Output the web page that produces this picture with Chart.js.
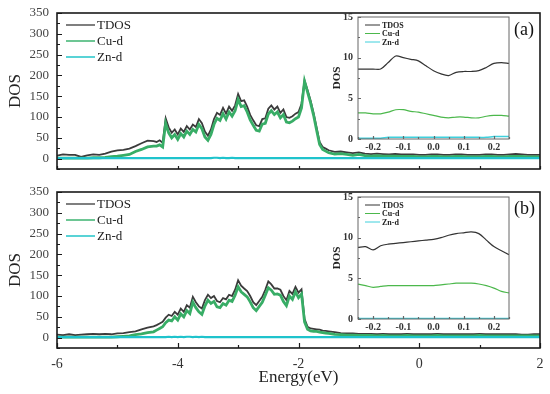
<!DOCTYPE html>
<html>
<head>
<meta charset="utf-8">
<script src="https://cdn.jsdelivr.net/npm/chart.js@4.4.0/dist/chart.umd.min.js"></script>
<style>
  html, body { margin: 0; padding: 0; background: #fff; }
  #wrap { position: relative; width: 550px; height: 394px; overflow: hidden; }
  canvas { position: absolute; }
</style>
</head>
<body>
<div id="wrap">
  <canvas id="mainA" width="550" height="180" style="left:0;top:0"></canvas>
  <canvas id="mainB" width="550" height="214" style="left:0;top:180px"></canvas>
  <canvas id="insetA" width="230" height="160" style="left:320px;top:0"></canvas>
  <canvas id="insetB" width="230" height="160" style="left:320px;top:180px"></canvas>
</div>
<script>
// nama seri (legend)
const seriesNames = ['TDOS', 'Cu-d', 'Zn-d'];

// sumbu energi panel utama (eV)
const energy = [
  -6.0, -5.9, -5.8, -5.7, -5.6, -5.5, -5.4, -5.3, -5.2, -5.1, -5.0, -4.9, -4.8, -4.7, -4.6, -4.5, -4.4,
  -4.35, -4.3, -4.25, -4.2, -4.15, -4.1, -4.05, -4.0,
  -3.95, -3.9, -3.85, -3.8, -3.75, -3.7, -3.65, -3.6, -3.55, -3.5,
  -3.45, -3.4, -3.35, -3.3, -3.25, -3.2, -3.15, -3.1, -3.05, -3.0,
  -2.95, -2.9, -2.85, -2.8, -2.75, -2.7, -2.65, -2.6, -2.55, -2.5,
  -2.45, -2.4, -2.35, -2.3, -2.25, -2.2, -2.15, -2.1, -2.05, -2.0,
  -1.95, -1.9, -1.85, -1.8, -1.75, -1.7, -1.65, -1.6, -1.55,
  -1.5, -1.4, -1.3, -1.2, -1.1, -1.0, -0.9, -0.8, -0.7, -0.6, -0.5, -0.4, -0.3, -0.2, -0.1,
  0.0, 0.1, 0.2, 0.3, 0.4, 0.5, 0.6, 0.7, 0.8, 0.9, 1.0, 1.1, 1.2, 1.3, 1.4, 1.5, 1.6, 1.7, 1.8, 1.9, 2.0
];

// panel (a)
const tdosA = [
  7, 10, 9, 9, 4, 8, 10, 9, 12, 17, 20, 21, 24, 30, 37, 43, 42,
  40, 44, 38, 97, 75, 62, 70, 58,
  72, 64, 78, 70, 82, 76, 95, 85, 65, 55,
  70, 95, 110, 105, 122, 108, 125, 115, 128, 155,
  138, 140, 125, 105, 92, 80, 78, 95, 97, 120,
  128, 118, 125, 110, 118, 100, 98, 102, 108, 112,
  132, 188, 165, 140, 110, 75, 40, 28, 24,
  20, 16, 17, 15, 13, 15, 12, 11, 12, 11, 10, 11, 10, 10, 10,
  9, 9, 10, 10, 9, 9, 10, 10, 9, 9, 9, 10, 10, 9, 9, 10, 11, 10, 9, 9, 9
];
const cuA = [
  1, 1, 1, 1, 1, 1, 2, 2, 3, 5, 6, 8, 10, 17, 22, 28, 30,
  30, 33, 28, 85, 62, 50, 58, 46,
  60, 52, 66, 58, 70, 64, 82, 72, 52, 44,
  58, 82, 97, 92, 108, 95, 112, 102, 115, 142,
  125, 127, 112, 93, 80, 68, 66, 83, 85, 107,
  115, 106, 112, 98, 106, 88, 86, 90, 96, 100,
  122, 186, 160, 134, 104, 68, 34, 22, 18,
  14, 11, 12, 10, 8, 10, 7, 6, 7, 6, 6, 6, 5, 5, 5,
  4, 4, 5, 5, 4, 4, 5, 5, 4, 4, 4, 5, 5, 4, 4, 5, 5, 5, 4, 4, 4
];
const znA = [
  1, 1, 1, 1, 1, 1, 1, 1, 1, 1, 1, 1, 1, 1, 1, 1, 1,
  1, 1, 1, 1, 1, 1, 1, 1,
  1, 1, 1, 1, 1, 1, 1, 1, 1, 1,
  1, 2, 2, 1, 2, 1, 1, 2, 1, 1,
  1, 1, 1, 1, 1, 1, 1, 1, 1, 1,
  1, 1, 1, 1, 1, 1, 1, 1, 1, 1,
  1, 1, 1, 1, 1, 1, 1, 1, 1,
  1, 1, 1, 1, 1, 1, 1, 1, 1, 1, 1, 1, 1, 1, 1,
  1, 1, 1, 1, 1, 1, 1, 1, 1, 1, 1, 1, 1, 1, 1, 1, 1, 1, 1, 1, 1
];

// panel (b)
const tdosB = [
  7, 6, 8, 6, 7, 8, 9, 8, 9, 8, 10, 11, 13, 15, 20, 24, 27,
  30, 34, 38, 48, 55, 52, 62, 55,
  70, 62, 78, 72, 98, 85, 75, 70, 90, 103,
  95, 100, 88, 85, 95, 92, 103, 100, 115, 138,
  125, 118, 112, 100, 85, 78, 88, 98, 115, 135,
  128, 118, 118, 115, 100, 90, 112, 105, 122, 108,
  116, 45, 26, 22, 21, 20, 19, 17, 16,
  15, 13, 11, 10, 10, 9, 9, 9, 8, 9, 8, 8, 8, 9, 8,
  8, 8, 8, 9, 8, 8, 8, 8, 8, 8, 9, 8, 8, 8, 8, 8, 8, 7, 7, 8, 8
];
const cuB = [
  1, 1, 1, 1, 1, 1, 1, 1, 1, 1, 2, 3, 4, 7, 9, 12, 14,
  18, 22, 26, 36, 42, 40, 50, 42,
  57, 50, 65, 58, 85, 72, 62, 56, 76, 90,
  82, 87, 74, 72, 82, 78, 90, 87, 102, 122,
  110, 104, 98, 86, 72, 65, 75, 85, 102, 120,
  114, 104, 105, 102, 87, 77, 100, 92, 110, 96,
  105, 38, 20, 16, 15, 15, 13, 12, 11,
  10, 8, 7, 6, 6, 5, 5, 5, 4, 5, 4, 4, 4, 5, 4,
  4, 4, 4, 5, 4, 4, 4, 4, 4, 4, 5, 4, 4, 4, 4, 4, 4, 4, 4, 4, 4
];
const znB = [
  1, 1, 1, 1, 1, 1, 1, 1, 1, 1, 1, 1, 1, 1, 1, 1, 1,
  1, 1, 1, 1, 2, 1, 2, 1,
  2, 1, 2, 2, 1, 2, 1, 2, 1, 1,
  1, 1, 1, 1, 1, 1, 1, 1, 1, 1,
  1, 1, 1, 1, 1, 1, 1, 1, 1, 1,
  1, 1, 1, 1, 1, 1, 1, 1, 1, 1,
  1, 1, 1, 1, 1, 1, 1, 1, 1,
  1, 1, 1, 1, 1, 1, 1, 1, 1, 1, 1, 1, 1, 1, 1,
  1, 1, 1, 1, 1, 1, 1, 1, 1, 1, 1, 1, 1, 1, 1, 1, 1, 1, 1, 1, 1
];

// inset: zoom di sekitar level Fermi
const insetEnergy = [-0.25, -0.225, -0.2, -0.175, -0.15, -0.125, -0.1, -0.075, -0.05, -0.025, 0,
  0.025, 0.05, 0.075, 0.1, 0.125, 0.15, 0.175, 0.2, 0.225, 0.25];
const insetTdosA = [8.6, 8.6, 8.6, 8.6, 9.4, 10.2, 10.0, 9.8, 9.6, 9.0, 8.4, 8.0, 7.8, 8.2, 8.3, 8.3, 8.4, 8.8, 9.3, 9.4, 9.3];
const insetCuA = [3.2, 3.2, 3.1, 3.1, 3.3, 3.6, 3.6, 3.4, 3.3, 3.1, 2.9, 2.7, 2.6, 2.7, 2.7, 2.6, 2.6, 2.8, 2.9, 2.9, 2.8];
const insetZnA = [0.1, 0.1, 0.1, 0.1, 0.2, 0.2, 0.2, 0.2, 0.2, 0.2, 0.2, 0.2, 0.2, 0.2, 0.2, 0.2, 0.2, 0.2, 0.3, 0.3, 0.3];
const insetTdosB = [8.8, 8.9, 8.5, 9.0, 9.2, 9.3, 9.4, 9.5, 9.6, 9.7, 9.8, 10.0, 10.3, 10.5, 10.6, 10.7, 10.5, 9.7, 8.9, 8.4, 7.9];
const insetCuB = [4.3, 4.1, 3.9, 4.0, 4.1, 4.1, 4.1, 4.1, 4.1, 4.1, 4.1, 4.2, 4.3, 4.4, 4.4, 4.4, 4.3, 4.1, 3.8, 3.4, 3.2];
const insetZnB = [0.05, 0.05, 0.05, 0.05, 0.05, 0.05, 0.05, 0.05, 0.05, 0.05, 0.05, 0.05, 0.05, 0.05, 0.05, 0.05, 0.05, 0.05, 0.05, 0.05, 0.05];

const SERIF = "'Liberation Serif', 'Times New Roman', serif";

function toPoints(xs, ys) {
  return xs.map((x, i) => ({ x: x, y: ys[i] }));
}

// matikan padding otomatis agar chartArea persis sesuai layout
function fixSize(prop, size) {
  return s => {
    s[prop] = size;
    s.paddingTop = 0; s.paddingBottom = 0; s.paddingLeft = 0; s.paddingRight = 0;
  };
}

// plugin: kotak bingkai, tick ke dalam, legend manual, label panel (a)/(b)
function framePlugin(o) {
  return {
    id: 'frame',
    beforeDatasetsDraw(chart) {
      if (!o.fillWhite) return;
      const a = chart.chartArea, ctx = chart.ctx;
      ctx.save();
      ctx.fillStyle = '#fff';
      ctx.fillRect(a.left, a.top, a.right - a.left, a.bottom - a.top);
      ctx.restore();
    },
    afterDraw(chart) {
      const a = chart.chartArea, ctx = chart.ctx;
      const sx = chart.scales.x, sy = chart.scales.y;
      ctx.save();

      // tick marks mengarah ke dalam
      ctx.strokeStyle = o.frameColor;
      ctx.lineWidth = 1.2;
      ctx.beginPath();
      sx.ticks.forEach(t => {
        const px = Math.round(sx.getPixelForValue(t.value)) + 0.5;
        const len = t.label ? o.majorTick : o.minorTick;
        ctx.moveTo(px, a.bottom);
        ctx.lineTo(px, a.bottom - len);
      });
      sy.ticks.forEach(t => {
        const py = Math.round(sy.getPixelForValue(t.value)) + 0.5;
        const len = t.label ? o.majorTick : o.minorTick;
        ctx.moveTo(a.left, py);
        ctx.lineTo(a.left + len, py);
      });
      ctx.stroke();

      ctx.lineWidth = o.frameWidth;
      ctx.strokeRect(a.left, a.top, a.right - a.left, a.bottom - a.top);

      ctx.font = o.legendFont;
      ctx.textBaseline = 'middle';
      ctx.textAlign = 'left';
      seriesNames.forEach((name, i) => {
        const y = a.top + o.legendTop + i * o.legendGap;
        const x0 = a.left + o.legendX;
        ctx.strokeStyle = o.legendColors[i];
        ctx.lineWidth = o.legendLine;
        ctx.beginPath();
        ctx.moveTo(x0, y);
        ctx.lineTo(x0 + o.legendLen, y);
        ctx.stroke();
        ctx.fillStyle = '#222';
        ctx.fillText(name, x0 + o.legendLen + 2, y + 0.5);
      });

      if (o.tag) {
        ctx.font = '18px ' + SERIF;
        ctx.fillStyle = '#111';
        ctx.fillText(o.tag, a.right - 26, a.top + 17);
      }
      ctx.restore();
    }
  };
}

function drawMain(id, tdos, cu, zn, showX, tag, padTop, xHeight) {
  const ctx = document.getElementById(id).getContext('2d');
  new Chart(ctx, {
    type: 'line',
    data: {
      datasets: [
        { label: seriesNames[0], data: toPoints(energy, tdos), borderColor: '#3b3b3b', borderWidth: 1.8, order: 2 },
        { label: seriesNames[1], data: toPoints(energy, cu), borderColor: '#38ad66', borderWidth: 2.8, order: 1 },
        { label: seriesNames[2], data: toPoints(energy, zn), borderColor: '#1fc3cc', borderWidth: 2.2, order: 0 }
      ]
    },
    options: {
      responsive: false,
      animation: false,
      layout: { padding: { top: padTop, right: 10, left: 0, bottom: 0 } },
      elements: { point: { radius: 0 }, line: { tension: 0 } },
      plugins: { legend: { display: false }, tooltip: { enabled: false } },
      scales: {
        x: {
          type: 'linear', min: -6, max: 2,
          afterFit: fixSize('height', xHeight),
          grid: { drawOnChartArea: false, drawTicks: false },
          border: { display: false },
          ticks: {
            stepSize: 1, autoSkip: false, maxRotation: 0, padding: 8,
            color: '#333', font: { family: SERIF, size: 14 },
            callback: v => (showX && v % 2 === 0) ? String(v) : ''
          },
          title: {
            display: showX, text: 'Energy(eV)', color: '#222',
            font: { family: SERIF, size: 17 }, padding: { top: 0, bottom: 6 }
          }
        },
        y: {
          min: -25, max: 350,
          afterFit: fixSize('width', 57),
          grid: { drawOnChartArea: false, drawTicks: false },
          border: { display: false },
          ticks: {
            stepSize: 25, autoSkip: false, padding: 8,
            color: '#444', font: { family: SERIF, size: 13 },
            callback: v => (v >= 0 && v % 50 === 0) ? String(v) : ''
          },
          title: {
            display: true, text: 'DOS', color: '#222',
            font: { family: SERIF, size: 17 }, padding: { top: 5, bottom: 0 }
          }
        }
      }
    },
    plugins: [framePlugin({
      frameColor: '#1a1a1a', frameWidth: 1.6, majorTick: 5, minorTick: 3,
      legendFont: '13px ' + SERIF, legendTop: 12, legendGap: 16, legendX: 9, legendLen: 29,
      legendLine: 1.5, legendColors: ['#555', '#3cb371', '#22c4c8'], tag: tag
    })]
  });
}

function drawInset(id, tdos, cu, zn) {
  const ctx = document.getElementById(id).getContext('2d');
  new Chart(ctx, {
    type: 'line',
    data: {
      datasets: [
        { label: seriesNames[0], data: toPoints(insetEnergy, tdos), borderColor: '#333', borderWidth: 1.2 },
        { label: seriesNames[1], data: toPoints(insetEnergy, cu), borderColor: '#4cb84c', borderWidth: 1.2 },
        { label: seriesNames[2], data: toPoints(insetEnergy, zn), borderColor: '#3fd0dc', borderWidth: 1.5 }
      ]
    },
    options: {
      responsive: false,
      animation: false,
      layout: { padding: { top: 17, right: 41, left: 0, bottom: 0 } },
      elements: { point: { radius: 0 }, line: { tension: 0.3 } },
      plugins: { legend: { display: false }, tooltip: { enabled: false } },
      scales: {
        x: {
          type: 'linear', min: -0.25, max: 0.25,
          afterFit: fixSize('height', 21),
          grid: { drawOnChartArea: false, drawTicks: false },
          border: { display: false },
          ticks: {
            stepSize: 0.05, autoSkip: false, maxRotation: 0, padding: 2,
            color: '#333', font: { family: SERIF, size: 10, weight: 'bold' },
            callback: v => {
              const t = Math.round(v * 100);
              return t % 10 === 0 ? (t / 100).toFixed(1) : '';
            }
          }
        },
        y: {
          min: 0, max: 15,
          afterFit: fixSize('width', 38),
          grid: { drawOnChartArea: false, drawTicks: false },
          border: { display: false },
          ticks: {
            stepSize: 2.5, autoSkip: false, padding: 5,
            color: '#333', font: { family: SERIF, size: 10, weight: 'bold' },
            callback: v => (v % 5 === 0) ? String(v) : ''
          },
          title: {
            display: true, text: 'DOS', color: '#222',
            font: { family: SERIF, size: 11, weight: 'bold' }, padding: { top: 11, bottom: 0 }
          }
        }
      }
    },
    plugins: [framePlugin({
      fillWhite: true, frameColor: '#666', frameWidth: 1, majorTick: 3, minorTick: 2,
      legendFont: 'bold 8px ' + SERIF, legendTop: 8, legendGap: 8.5, legendX: 7, legendLen: 15,
      legendLine: 1, legendColors: ['#333', '#4cb84c', '#3fd0dc'], tag: null
    })]
  });
}

drawMain('mainA', tdosA, cuA, znA, false, '(a)', 13, 11);
drawMain('mainB', tdosB, cuB, znB, true, '(b)', 12, 46);
drawInset('insetA', insetTdosA, insetCuA, insetZnA);
drawInset('insetB', insetTdosB, insetCuB, insetZnB);
</script>
</body>
</html>
